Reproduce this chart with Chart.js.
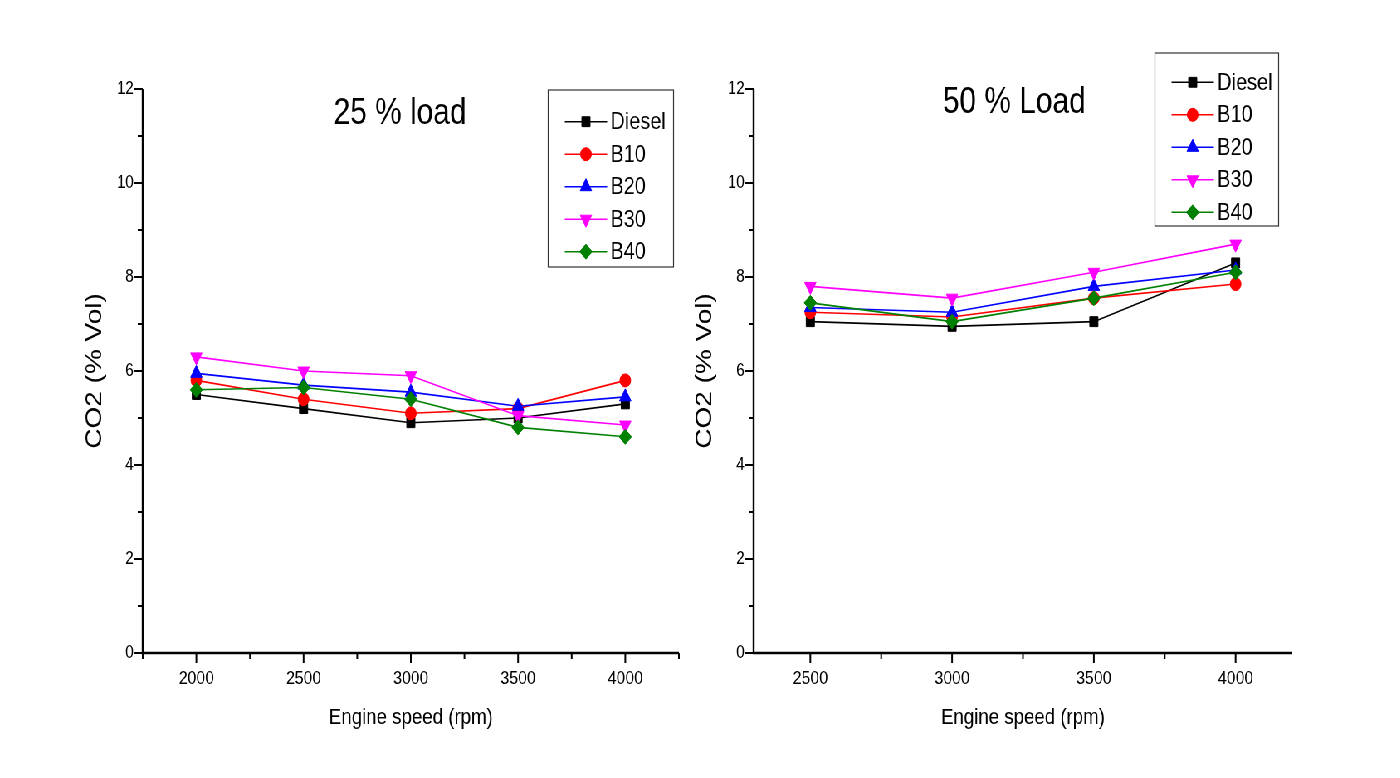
<!DOCTYPE html>
<html>
<head>
<meta charset="utf-8">
<title>CO2 emissions</title>
<script src="https://cdn.jsdelivr.net/npm/chart.js@4.4.1/dist/chart.umd.min.js"></script>
<style>
html, body { margin: 0; padding: 0; background: #fff; overflow: hidden; }
/* the figure is drawn a bit wider and then squeezed horizontally */
#fig { position: absolute; left: 0; top: 0; width: 1687px; height: 778px; transform: scaleX(0.83); transform-origin: 0 0; }
#fig canvas { position: absolute; top: 0; }
#c25 { left: 0; }
#c50 { left: 830px; }
</style>
</head>
<body>
<div id="fig">
  <canvas id="c25" width="850" height="778"></canvas>
  <canvas id="c50" width="857" height="778"></canvas>
</div>
<script>
const FONT = '"Liberation Sans", Arial, sans-serif';

const fuels = ['Diesel', 'B10', 'B20', 'B30', 'B40'];

// 25 % load
const speeds25 = [2000, 2500, 3000, 3500, 4000];
const diesel25 = [5.5, 5.2, 4.9, 5.0, 5.3];
const b10_25 = [5.8, 5.4, 5.1, 5.2, 5.8];
const b20_25 = [5.95, 5.7, 5.55, 5.25, 5.45];
const b30_25 = [6.3, 6.0, 5.9, 5.05, 4.85];
const b40_25 = [5.6, 5.65, 5.4, 4.8, 4.6];

// 50 % load
const speeds50 = [2500, 3000, 3500, 4000];
const diesel50 = [7.05, 6.95, 7.05, 8.3];
const b10_50 = [7.25, 7.15, 7.55, 7.85];
const b20_50 = [7.35, 7.25, 7.8, 8.15];
const b30_50 = [7.8, 7.55, 8.1, 8.7];
const b40_50 = [7.45, 7.05, 7.55, 8.1];

const yTicks = [0, 2, 4, 6, 8, 10, 12];

const styles = [
  { color: '#000000', pointStyle: 'rect', radius: 7, rotation: 0 },
  { color: '#ff0000', pointStyle: 'circle', radius: 6.5, rotation: 0 },
  { color: '#0000ff', pointStyle: 'triangle', radius: 8, rotation: 0 },
  { color: '#ff00ff', pointStyle: 'triangle', radius: 8, rotation: 180 },
  { color: '#008000', pointStyle: 'rectRot', radius: 7.5, rotation: 0 }
];

function makeSets(speeds, series) {
  return series.map((vals, i) => {
    const st = styles[i];
    return {
      label: fuels[i],
      data: speeds.map((x, k) => ({ x: x, y: vals[k] })),
      borderColor: st.color,
      backgroundColor: st.color,
      pointBackgroundColor: st.color,
      pointBorderColor: st.color,
      pointStyle: st.pointStyle,
      pointRadius: st.radius,
      pointRotation: st.rotation,
      pointBorderWidth: 1,
      borderWidth: 1.6,
      tension: 0,
      order: series.length - 1 - i
    };
  });
}

// left/bottom axis lines with major and minor ticks, panel title and boxed legend
const frame = {
  id: 'frame',
  afterDraw(chart, args, opts) {
    const ctx = chart.ctx;
    const { left, right, top, bottom } = chart.chartArea;
    const xs = chart.scales.x, ys = chart.scales.y;
    ctx.save();
    ctx.strokeStyle = '#000';
    ctx.lineWidth = 2.4;
    ctx.beginPath();
    ctx.moveTo(left, top);
    ctx.lineTo(left, bottom);
    ctx.lineTo(right, bottom);
    ctx.stroke();

    ctx.lineWidth = 2;
    for (let v = Math.ceil(xs.min / 250) * 250; v <= xs.max; v += 250) {
      const px = xs.getPixelForValue(v);
      const len = v % 500 === 0 ? 10 : 6;
      ctx.beginPath();
      ctx.moveTo(px, bottom);
      ctx.lineTo(px, bottom + len);
      ctx.stroke();
    }
    for (let v = ys.min; v <= ys.max; v += 1) {
      const py = ys.getPixelForValue(v);
      const len = v % 2 === 0 ? 10 : 6;
      ctx.beginPath();
      ctx.moveTo(left, py);
      ctx.lineTo(left - len, py);
      ctx.stroke();
    }

    ctx.fillStyle = '#000';
    ctx.font = '36px ' + FONT;
    ctx.textAlign = 'center';
    ctx.textBaseline = 'alphabetic';
    ctx.fillText(opts.title, opts.titleX, opts.titleY);

    const lg = opts.legend;
    ctx.strokeStyle = '#333';
    ctx.lineWidth = 1.2;
    ctx.strokeRect(lg.x, lg.y, lg.w, lg.h);
    ctx.font = '24px ' + FONT;
    ctx.textAlign = 'left';
    ctx.textBaseline = 'middle';
    chart.data.datasets.forEach((ds, i) => {
      const y = lg.y + lg.row0 + i * lg.gap;
      ctx.strokeStyle = ds.borderColor;
      ctx.lineWidth = 1.5;
      ctx.beginPath();
      ctx.moveTo(lg.x + 20, y);
      ctx.lineTo(lg.x + 71, y);
      ctx.stroke();
      ctx.fillStyle = ds.pointBackgroundColor;
      ctx.lineWidth = 1;
      Chart.helpers.drawPoint(ctx, {
        pointStyle: ds.pointStyle,
        rotation: ds.pointRotation,
        radius: ds.pointRadius,
        borderWidth: 1
      }, lg.x + 45.5, y);
      ctx.fillStyle = '#000';
      ctx.fillText(ds.label, lg.x + 75, y + 1);
    });
    ctx.restore();
  }
};

function makeChart(id, speeds, series, cfg) {
  return new Chart(document.getElementById(id), {
    type: 'line',
    data: { datasets: makeSets(speeds, series) },
    plugins: [frame],
    options: {
      responsive: false,
      animation: false,
      events: [],
      layout: { padding: { left: cfg.padLeft, right: cfg.padRight, top: 89, bottom: 20 } },
      plugins: {
        legend: { display: false },
        tooltip: { enabled: false },
        frame: { title: cfg.title, titleX: cfg.titleX, titleY: cfg.titleY, legend: cfg.legend }
      },
      scales: {
        x: {
          type: 'linear',
          min: cfg.xMin,
          max: cfg.xMax,
          afterFit: s => { s.height = 105; },
          grid: { display: false, drawTicks: false },
          border: { display: false },
          ticks: {
            stepSize: 250,
            autoSkip: false,
            maxRotation: 0,
            padding: 14,
            color: '#000',
            font: { size: 19, family: FONT },
            callback: v => (v % 500 === 0 ? String(v) : '')
          },
          title: {
            display: true,
            text: 'Engine speed (rpm)',
            color: '#000',
            font: { size: 22.5, family: FONT },
            padding: { top: 0, bottom: 27 }
          }
        },
        y: {
          min: yTicks[0],
          max: yTicks[yTicks.length - 1],
          afterFit: s => { s.width = cfg.yWidth; },
          grid: { display: false, drawTicks: false },
          border: { display: false },
          ticks: {
            stepSize: 2,
            padding: 11,
            color: '#000',
            font: { size: 18, family: FONT }
          },
          title: {
            display: true,
            text: 'CO2 (% Vol)',
            color: '#000',
            font: { size: 28, family: FONT },
            padding: { top: cfg.titlePad, bottom: 0 }
          }
        }
      }
    }
  });
}

makeChart('c25', speeds25, [diesel25, b10_25, b20_25, b30_25, b40_25], {
  xMin: 1750, xMax: 4250,
  padLeft: 95, padRight: 32, yWidth: 77, titlePad: 2.7,
  title: '25 % load', titleX: 482, titleY: 124,
  legend: { x: 660.5, y: 90, w: 151, h: 177, row0: 31.7, gap: 32.5 }
});

makeChart('c50', speeds50, [diesel50, b10_50, b20_50, b30_50, b40_50], {
  xMin: 2300, xMax: 4200,
  padLeft: 0, padRight: 130, yWidth: 78, titlePad: 2.2,
  title: '50 % Load', titleX: 392, titleY: 113,
  legend: { x: 561.5, y: 53, w: 149, h: 173, row0: 29.3, gap: 32.5 }
});
</script>
</body>
</html>
